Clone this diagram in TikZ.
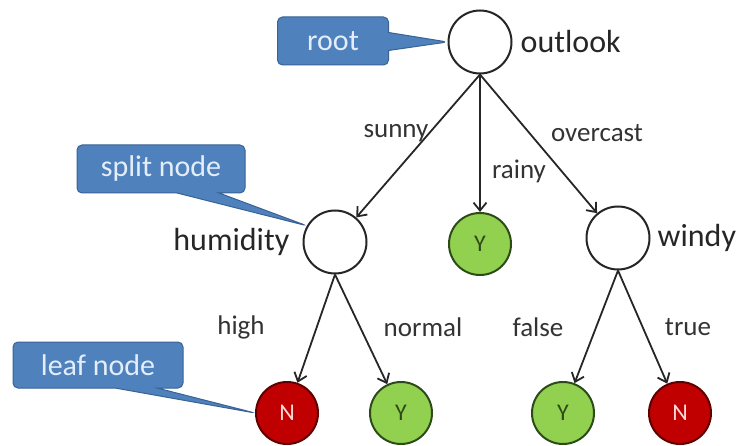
\documentclass[tikz,border=0pt]{standalone}
\usepackage{fontspec}
\setmainfont{Carlito}
\usepackage{tikz}
\usetikzlibrary{arrows.meta, positioning, shapes.callouts}

\definecolor{yesgreen}{RGB}{146,208,80}
\definecolor{yesline}{RGB}{45,75,25}
\definecolor{nored}{RGB}{192,0,0}
\definecolor{noline}{RGB}{95,0,0}
\definecolor{tagblue}{RGB}{79,129,189}
\definecolor{tagline}{RGB}{58,98,148}
\definecolor{tagtext}{RGB}{228,238,250}

\begin{document}
\begin{tikzpicture}[ x=1pt, y=-1pt, splitnode/.style={circle, draw=black!85,
      fill=white, line width=2pt, minimum size=63pt, inner sep=0pt},
      leafyes/.style={circle, draw=yesline, fill=yesgreen, line width=2pt,
      minimum size=62pt, inner sep=0pt, text=yesline,
      font=\fontsize{24pt}{26pt}\selectfont}, leafno/.style={leafyes,
      draw=noline, fill=nored, text=white!85!red},
      branch/.style={line width=1.8pt, black!85, -{Straight Barb[length=8pt,
      width=13pt]}}, attrname/.style={inner sep=0pt, text=black!85,
      font=\fontsize{32pt}{36pt}\selectfont}, branchlabel/.style={inner
      sep=0pt, text=black!80, font=\fontsize{27pt}{30pt}\selectfont},
      tag/.style={rectangle callout, rounded corners=5pt, draw=tagline,
      fill=tagblue, line width=1pt, text=tagtext, minimum height=48pt,
      font=\fontsize{30pt}{32pt}\selectfont} ]
    \useasboundingbox (0,0) rectangle (741,446);

    % Split nodes
    \node[splitnode] (outlook) at (480,42) {}; \node[splitnode] (humidity) at
    (335,242) {}; \node[splitnode] (windy) at (618,238) {};

    % Leaves
    \node[leafyes] (rainyleaf) at (480,244) {Y}; \node[leafno] (highleaf) at
    (287,413) {N}; \node[leafyes] (normalleaf) at (401,413) {Y};
    \node[leafyes] (falseleaf) at (563,413) {Y}; \node[leafno] (trueleaf) at
    (680,413) {N};

    % Attribute names beside the split nodes
    \node[attrname, right=8pt of outlook] (outlooklbl) {outlook};
    \node[attrname, left=13pt of humidity] (humiditylbl) {humidity};
    \node[attrname, right=7pt of windy] (windylbl) {windy};

    % Branches
    \draw[branch] (outlook.south) -- (humidity); \draw[branch] (outlook.south)
    -- (rainyleaf); \draw[branch] (outlook.south) -- (windy);
    \draw[branch] (humidity.south) -- (highleaf); \draw[branch]
    (humidity.south) -- (normalleaf); \draw[branch] (windy.south) --
    (falseleaf); \draw[branch] (windy.south) -- (trueleaf);

    % Branch values
    \node[branchlabel] (sunnylbl) at (396,133) {sunny}; \node[branchlabel]
    (rainylbl) at (519,171) {rainy}; \node[branchlabel] (overcastlbl) at
    (597,133) {overcast}; \node[branchlabel] (highlbl) at (241,327) {high};
    \node[branchlabel] (normallbl) at (423,327) {normal}; \node[branchlabel]
    (falselbl) at (538,327) {false}; \node[branchlabel] (truelbl) at
    (688,327) {true};

    % Callouts
    \node[tag, minimum width=111pt, callout pointer width=18pt,
    callout absolute pointer={(outlook.west)}] (roottag) at (333,41) {root};
    \node[tag, minimum width=168pt, callout pointer width=42pt,
    callout absolute pointer={(humidity.150)}] (splittag) at (161,169) {split
    node}; \node[tag, minimum width=170pt, minimum height=46pt,
    callout pointer width=42pt, callout absolute pointer={(highleaf.west)}]
    (leaftag) at (98,365) {leaf node};

    \end{tikzpicture}
\end{document}
